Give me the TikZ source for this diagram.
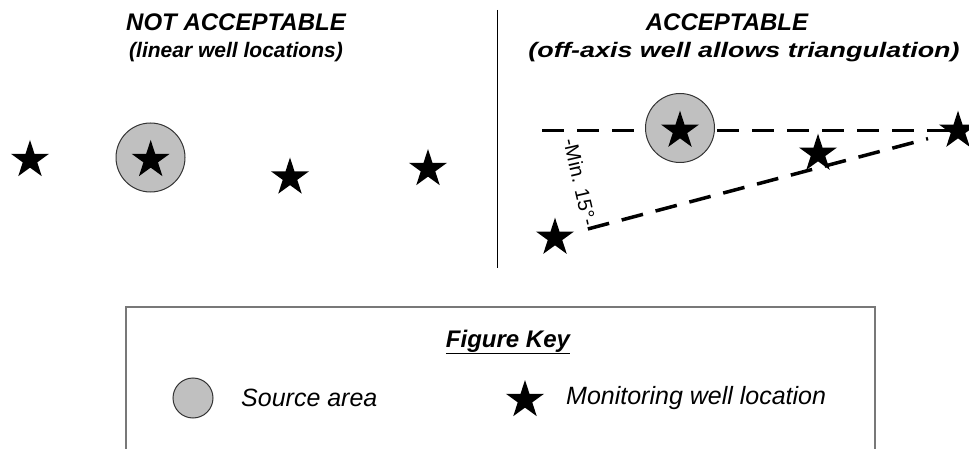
\documentclass[tikz,border=0pt]{standalone}
\usepackage{fontspec}
\setmainfont{Liberation Sans}
\usepackage{tikz}
\usetikzlibrary{shapes.geometric}
\definecolor{sourceGray}{RGB}{192,192,192}
\definecolor{keyGray}{RGB}{120,120,120}

\tikzset{
  well/.style={star, star points=5, star point ratio=2.618, fill=black, inner sep=0pt, minimum size=40pt},
  source/.style={circle, draw=black!80, line width=1pt, fill=sourceGray, inner sep=0pt, minimum size=69pt},
  trend/.style={line width=3.5pt, dash pattern=on 22pt off 13pt},
  title/.style={font=\fontsize{24}{28}\selectfont\bfseries\itshape},
  subtitle/.style={font=\fontsize{21}{25}\selectfont\bfseries\itshape},
  keytext/.style={font=\fontsize{25}{29}\selectfont\itshape, anchor=west, inner sep=0pt}
}

\begin{document}
\begin{tikzpicture}[x=1pt, y=-1pt]
  \useasboundingbox (0,0) rectangle (969,449);
  % headings
  \node[title] (notacc) at (236,22) {NOT ACCEPTABLE};
  \node[subtitle] (notaccsub) at (236,52) {(linear well locations)};
  \node[title] (acc) at (727,22) {ACCEPTABLE};
  \node[subtitle, xscale=1.28] (accsub) at (744,52) {(off-axis well allows triangulation)};
  \coordinate (divtop) at (497,10);
  \coordinate (divbot) at (497,268);
  \draw[line width=0.8pt] (divtop) -- (divbot);

  % left side: wells in a line
  \node[source] (srcL) at (150.5,157.5) {};
  \node[well] (wL1) at (30,160) {};
  \node[well] (wL2) at (150.7,160) {};
  \node[well] (wL3) at (290,177.5) {};
  \node[well] (wL4) at (428,169) {};

  % right side: off-axis well
  \coordinate (axisstart) at (542,130.7);
  \coordinate (pR1) at (555,237.7);
  \coordinate (pR3) at (818,153.7);
  \coordinate (pR4) at (958,130.7);
  \draw[trend] (axisstart) -- (pR4);
  \draw[trend, shorten <=34pt, shorten >=31pt] (pR1) -- (pR4);
  \node[source] (srcR) at (680,128) {};
  \node[well] (wR2) at (680,130.7) {};
  \node[well] (wR1) at (pR1) {};
  \node[well] (wR3) at (pR3) {};
  \node[well] (wR4) at (pR4) {};
  \node[rotate=-77, inner sep=1pt, font=\fontsize{20}{22}\selectfont] (minangle) at (580,182) {-Min. 15°-};

  % figure key
  \coordinate (keyBL) at (126,460);
  \coordinate (keyTL) at (126,307);
  \coordinate (keyTR) at (875,307);
  \coordinate (keyBR) at (875,460);
  \draw[keyGray, line width=1.5pt] (keyBL) -- (keyTL) -- (keyTR) -- (keyBR);
  \node[title] (keyhead) at (508,342) {\underline{Figure Key}};
  \node[source, minimum size=40pt] (keysrc) at (193,398) {};
  \node[keytext] (keysrctxt) at (241,398) {Source area};
  \node[well] (keywell) at (525,400) {};
  \node[keytext] (keywelltxt) at (566,398) {Monitoring well location};
\end{tikzpicture}
\end{document}
